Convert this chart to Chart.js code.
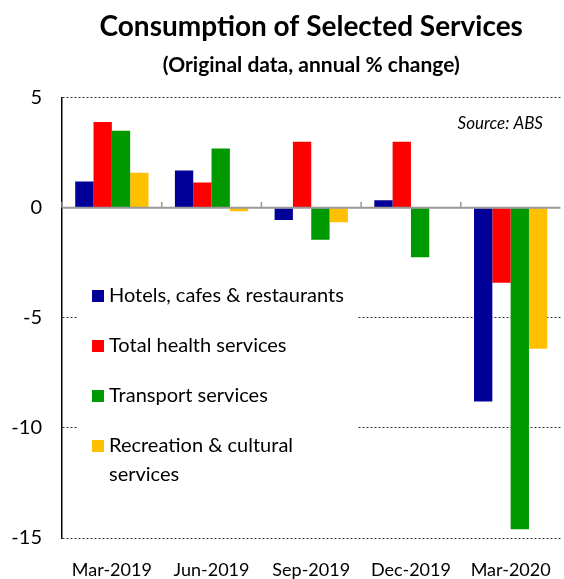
<!DOCTYPE html>
<html>
<head>
<meta charset="utf-8">
<script src="https://cdn.jsdelivr.net/npm/chart.js@4"></script>
<style>
  body { margin: 0; background: #fff; overflow: hidden; }
  #wrap { width: 564px; height: 579px; position: relative; }
</style>
</head>
<body>
<div id="wrap"><canvas id="servicesChart"></canvas></div>
<script>
// data
const quarters = ['Mar-2019', 'Jun-2019', 'Sep-2019', 'Dec-2019', 'Mar-2020'];
const hotels = [1.2, 1.7, -0.55, 0.35, -8.8];
const health = [3.9, 1.15, 3.0, 3.0, -3.4];
const transport = [3.5, 2.7, -1.45, -2.25, -14.6];
const recreation = [1.6, -0.15, -0.65, 0, -6.4];
const yTicks = [5, 0, -5, -10, -15];

const seriesNames = ['Hotels, cafes & restaurants', 'Total health services', 'Transport services', 'Recreation & cultural services'];
const seriesColours = ['#000099', '#FF0000', '#009900', '#FFC000'];

const FONT = "Lato, 'Open Sans', sans-serif";

// grey zero line with little category ticks, drawn on top of bars
const zeroLine = {
    id: 'zeroLine',
    afterDatasetsDraw(chart) {
        const ctx = chart.ctx;
        const x = chart.scales.x;
        const y0 = chart.scales.y.getPixelForValue(0);
        const area = chart.chartArea;
        ctx.save();
        ctx.strokeStyle = '#999999';
        ctx.lineWidth = 2;
        ctx.beginPath();
        ctx.moveTo(area.left, y0);
        ctx.lineTo(area.right, y0);
        ctx.stroke();
        ctx.lineWidth = 1.5;
        const step = x.getPixelForValue(1) - x.getPixelForValue(0);
        for (let i = 0; i < quarters.length; i++) {
            const bx = x.getPixelForValue(i) - step / 2;
            ctx.beginPath();
            ctx.moveTo(bx, y0);
            ctx.lineTo(bx, y0 - 6);
            ctx.stroke();
        }
        ctx.restore();
    }
};

// legend inside the plot + source note
const innerLegend = {
    id: 'innerLegend',
    afterDraw(chart) {
        const ctx = chart.ctx;
        ctx.save();
        ctx.fillStyle = '#ffffff';
        ctx.fillRect(77, 280, 280, 210);
        ctx.font = '20px ' + FONT;
        ctx.textBaseline = 'middle';
        let y = 296;
        chart.data.datasets.forEach(ds => {
            ctx.fillStyle = ds.backgroundColor;
            ctx.fillRect(92, y - 6, 12, 12);
            ctx.fillStyle = '#000';
            // wrap long labels
            const words = ds.label.split(' ');
            let line = '';
            let lines = [];
            words.forEach(w => {
                const test = line ? line + ' ' + w : w;
                if (ctx.measureText(test).width > 245 && line) {
                    lines.push(line);
                    line = w;
                } else {
                    line = test;
                }
            });
            lines.push(line);
            lines.forEach((l, k) => ctx.fillText(l, 109, y + k * 29));
            y += 50;
        });
        ctx.font = 'italic 17px ' + FONT;
        ctx.textAlign = 'right';
        ctx.fillText('Source: ABS', 543, 124);
        ctx.restore();
    }
};

const ctx = document.getElementById('servicesChart');

const config = {
    type: 'bar',
    data: {
        labels: quarters,
        datasets: [
            { label: seriesNames[0], data: hotels, backgroundColor: seriesColours[0] },
            { label: seriesNames[1], data: health, backgroundColor: seriesColours[1] },
            { label: seriesNames[2], data: transport, backgroundColor: seriesColours[2] },
            { label: seriesNames[3], data: recreation, backgroundColor: seriesColours[3] }
        ]
    },
    options: {
        responsive: true,
        maintainAspectRatio: false,
        animation: false,
        layout: { padding: { left: 0, right: 0, top: 0, bottom: 0 } },
        datasets: {
            bar: { categoryPercentage: 0.735, barPercentage: 1, borderWidth: 0 }
        },
        scales: {
            x: {
                grid: { display: false },
                border: { display: false },
                ticks: {
                    color: '#000',
                    padding: 13,
                    maxRotation: 0,
                    font: { family: FONT, size: 18 }
                },
                afterFit(scale) { scale.height = 41; }
            },
            y: {
                min: -15,
                max: 5,
                afterBuildTicks(scale) {
                    scale.ticks = yTicks.map(v => ({ value: v }));
                },
                grid: {
                    drawTicks: false,
                    color: c => (c.tick && c.tick.value === 0) ? 'rgba(0,0,0,0)' : '#333333',
                    lineWidth: 1
                },
                border: { display: true, color: '#000', width: 1.5, dash: [2, 2] },
                ticks: {
                    color: '#000',
                    padding: 20,
                    font: { family: FONT, size: 20 }
                },
                afterFit(scale) { scale.width = 62; }
            }
        },
        plugins: {
            legend: { display: false },
            tooltip: { enabled: false },
            title: {
                display: true,
                fullSize: false,
                text: 'Consumption of Selected Services',
                color: '#000',
                font: { family: FONT, size: 28, weight: 'bold' },
                padding: { top: 10, bottom: 2 }
            },
            subtitle: {
                display: true,
                fullSize: false,
                text: '(Original data, annual % change)',
                color: '#000',
                font: { family: FONT, size: 21, weight: 'bold' },
                padding: { top: 7, bottom: 20 }
            }
        }
    },
    plugins: [zeroLine, innerLegend]
};

const servicesChart = new Chart(ctx, config);
</script>
</body>
</html>
